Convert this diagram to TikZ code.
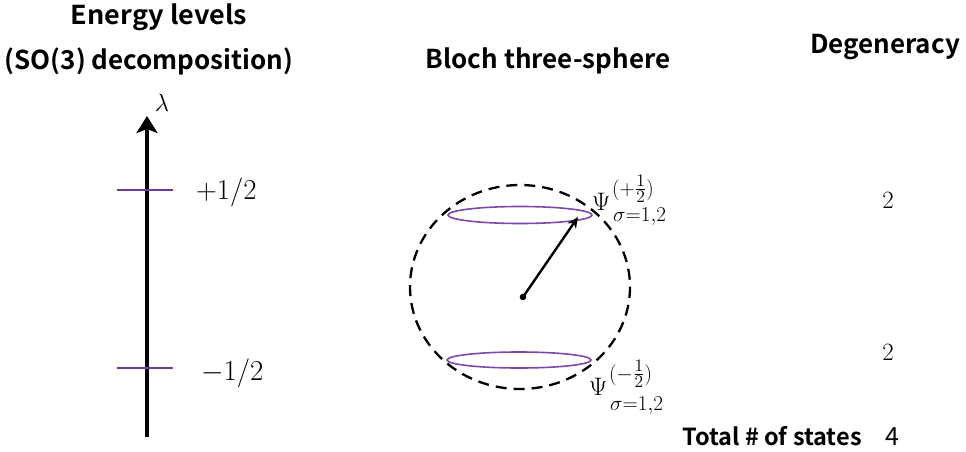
\documentclass[tikz,border=0pt]{standalone}
\usepackage{amsmath}
\usepackage{graphicx}
\usepackage{fontspec}
\newfontfamily\gothic{Noto Sans CJK JP}[BoldFont={Noto Sans CJK JP Bold}]
\DeclareMathSizes{20.74}{20.74}{17.28}{14.4}
\usetikzlibrary{arrows.meta}
\definecolor{lvl}{RGB}{110,62,150}
\definecolor{ringc}{RGB}{125,72,170}
\begin{document}
\begin{tikzpicture}[x=1pt,y=-1pt,
  title/.style={font=\gothic\bfseries\fontsize{26}{30}\selectfont, inner sep=0pt, anchor=base},
  lvltext/.style={font=\fontsize{24.88}{30}\selectfont, inner sep=0pt, anchor=base west},
  levelline/.style={draw=lvl, line width=1.1pt},
  ring/.style={draw=ringc, line width=1.6pt},
  psilabel/.style={font=\fontsize{20.74}{26}\selectfont, inner sep=0pt, anchor=base west},
  degnum/.style={font=\fontsize{24.88}{28}\selectfont, inner sep=0pt}]
\useasboundingbox (0,0) rectangle (966,452);
% titles
\node[title] (t1) at (159,25) {\scalebox{1.04}[1]{Energy levels}};
\node[title] (t2) at (149,70) {(SO(3) decomposition)};
\node[title] (t3) at (548,68) {Bloch three-sphere};
\node[title] (t4) at (885,54) {Degeneracy};
% energy axis
\coordinate (axb) at (147,437);
\coordinate (axt) at (147,116);
\draw[line width=3.8pt, -{Stealth[length=17pt,width=21pt,inset=4pt]}] (axb) -- (axt);
\node[font=\fontsize{24.88}{28}\selectfont, inner sep=0pt] (lam) at (162,103) {$\lambda$};
% levels
\coordinate (l1a) at (117,190); \coordinate (l1b) at (173,190);
\coordinate (l2a) at (117,368); \coordinate (l2b) at (173,368);
\draw[levelline] (l1a) -- (l1b);
\draw[levelline] (l2a) -- (l2b);
\node[lvltext] (e1) at (196,199) {\scalebox{1.16}{$+1/2$}};
\node[lvltext] (e2) at (201,380) {\scalebox{1.16}{$-1/2$}};
% Bloch sphere
\draw[line width=2.3pt, dash pattern=on 11pt off 7pt] (520,287) ellipse [x radius=110, y radius=102];
\draw[ring] (520,215) ellipse [x radius=72, y radius=8.5];
\draw[ring] (519,360) ellipse [x radius=72, y radius=8];
\coordinate (ctr) at (523,297);
\coordinate (tip) at (578,217);
\fill (ctr) circle (3.3);
\draw[line width=2.4pt, -{Stealth[length=11pt,width=10pt]}] (ctr) -- (tip);
% state labels
\node[psilabel] (p1) at (592,210) {\scalebox{1.22}{$\Psi$}};
\node[psilabel] (p1sup) at (612,195) {\scalebox{1.22}{$\scriptstyle(+\frac{1}{2})$}};
\node[psilabel] (p1sub) at (613,221) {\scalebox{1.22}{$\scriptstyle\sigma=1,2$}};
\node[psilabel] (p2) at (589,395) {\scalebox{1.22}{$\Psi$}};
\node[psilabel] (p2sup) at (609,380) {\scalebox{1.22}{$\scriptstyle(-\frac{1}{2})$}};
\node[psilabel] (p2sub) at (610,410) {\scalebox{1.22}{$\scriptstyle\sigma=1,2$}};
% degeneracy
\node[degnum] (d1) at (888,200) {2};
\node[degnum] (d2) at (888,352) {2};
\node[font=\gothic\bfseries\fontsize{23.5}{27}\selectfont, inner sep=0pt, anchor=base] (tot) at (772,445) {Total \# of states};
\node[font=\gothic\fontsize{25}{28}\selectfont, inner sep=0pt, anchor=base] (four) at (892,445) {4};
\end{tikzpicture}
\end{document}
